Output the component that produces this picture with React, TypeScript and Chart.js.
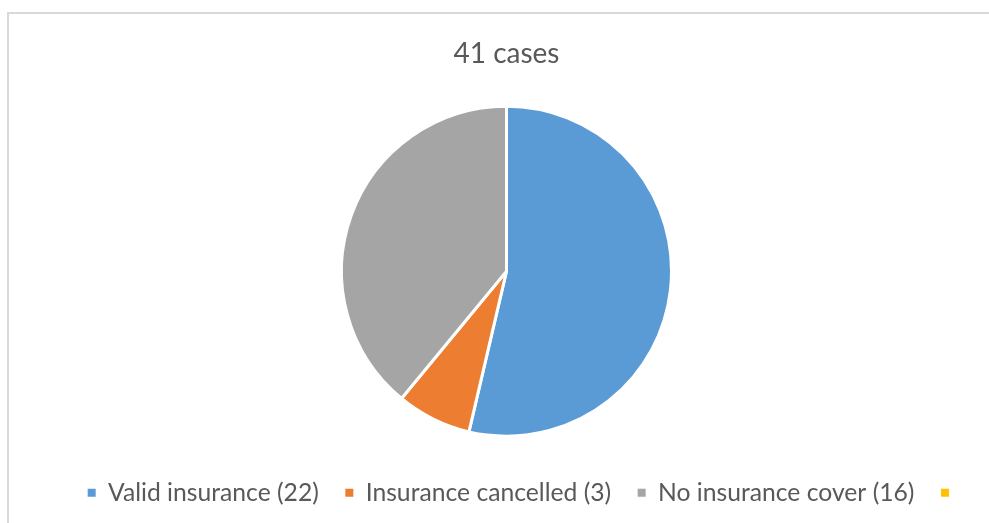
import React, { useEffect, useRef } from "react";
import { Chart, registerables } from "chart.js";

Chart.register(...registerables);

const TITLE = "41 cases";
const CATEGORIES = ["Valid insurance (22)", "Insurance cancelled (3)", "No insurance cover (16)", ""];
const VALUES = [22, 3, 16, 0];
const COLORS = ["#5B9BD5", "#ED7D31", "#A5A5A5", "#FFC000"];

const LEGEND_SHIFT = 18;

export default function App() {
  const canvasRef = useRef<HTMLCanvasElement | null>(null);

  useEffect(() => {
    const canvas = canvasRef.current;
    if (!canvas) return;
    const defaultGen = (Chart as any).overrides.pie.plugins.legend.labels.generateLabels;
    const shiftLegend = {
      id: "shiftLegend",
      afterLayout(c: any) {
        const l = c.legend;
        if (l) {
          l.left += LEGEND_SHIFT;
          l.right += LEGEND_SHIFT;
        }
      },
    };
    const chart = new Chart(canvas, {
      type: "pie",
      data: {
        labels: CATEGORIES,
        datasets: [
          {
            data: VALUES,
            backgroundColor: COLORS,
            borderColor: "#ffffff",
            borderWidth: 3,
            radius: 165,
          },
        ],
      },
      plugins: [shiftLegend],
      options: {
        responsive: false,
        animation: false,
        layout: { padding: { left: 24, right: 0, top: 0, bottom: 8 } },
        plugins: {
          tooltip: { enabled: false },
          title: {
            display: true,
            text: TITLE,
            color: "#595959",
            font: { family: "Lato", size: 28, weight: "normal" },
            padding: { top: 37, bottom: 18 },
          },
          legend: {
            display: true,
            position: "bottom",
            labels: {
              color: "#595959",
              font: { family: "Lato", size: 24.7 },
              boxWidth: 8,
              boxHeight: 8,
              padding: 26.5,
              generateLabels: (c: any) =>
                defaultGen(c).map((it: any) => ({ ...it, lineWidth: 0, strokeStyle: it.fillStyle })),
            },
          },
        },
      },
    } as any);
    return () => chart.destroy();
  }, []);

  return (
    <div
      style={{
        position: "fixed",
        left: 0,
        top: 0,
        width: 989,
        height: 523,
        overflow: "hidden",
        background: "#ffffff",
      }}
    >
      <div
        style={{
          position: "absolute",
          left: 7,
          top: 12,
          width: 1100,
          height: 700,
          boxSizing: "border-box",
          border: "2px solid #d9d9d9",
        }}
      />
      <canvas
        ref={canvasRef}
        width={989}
        height={523}
        style={{ position: "absolute", left: 0, top: 0, width: 989, height: 523 }}
      />
    </div>
  );
}
